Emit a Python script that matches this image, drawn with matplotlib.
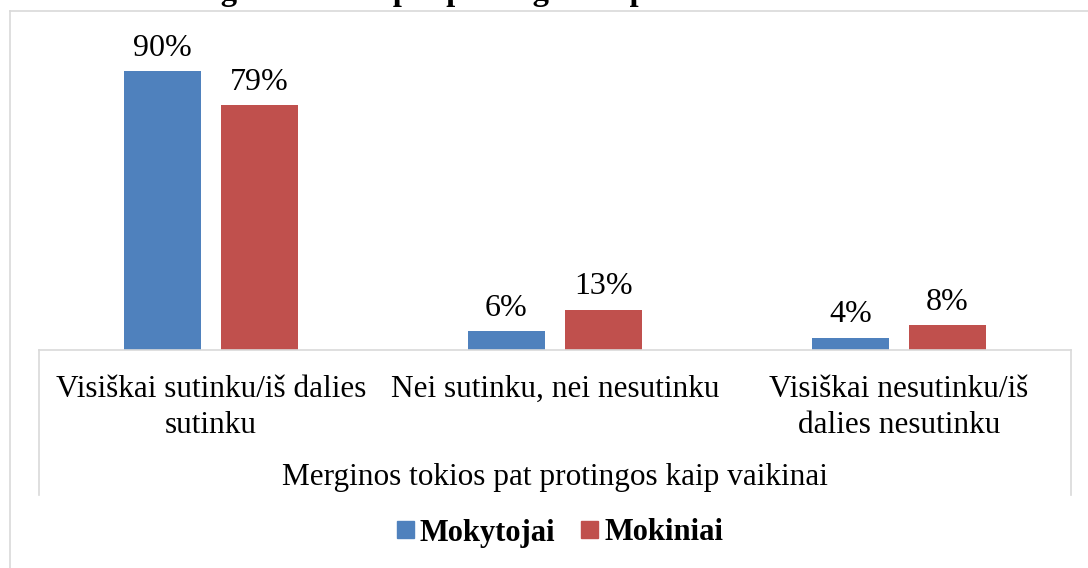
import matplotlib.pyplot as plt
from matplotlib.lines import Line2D
from matplotlib.patches import Patch
import numpy as np

plt.rcParams['font.family'] = ['Liberation Serif', 'DejaVu Serif']

CATEGORIES = ['Visiškai sutinku/iš dalies\nsutinku',
              'Nei sutinku, nei nesutinku',
              'Visiškai nesutinku/iš\ndalies nesutinku']
MOKYTOJAI = [0.90, 0.06, 0.04]
MOKINIAI = [0.79, 0.13, 0.08]
SERIES = ['Mokytojai', 'Mokiniai']
AXIS_TITLE = 'Merginos tokios pat protingos kaip vaikinai'
TITLE = 'Merginos tokios pat protingos kaip vaikinai'

BLUE = '#4F81BD'
RED = '#C0504D'
GRID = '#D9D9D9'

W, H = 1088, 568


def fx(px):
    return px / W


def fy(py):
    return 1 - py / H


def fig_line(fig, xs, ys):
    fig.add_artist(Line2D([fx(x) for x in xs], [fy(y) for y in ys],
                          transform=fig.transFigure, color=GRID, lw=1.2))


fig = plt.figure(figsize=(W / 100, H / 100), dpi=100)

# plot area: baseline at y=350 px, 100% at y=40 px
ax = fig.add_axes([fx(39), fy(350), fx(1071) - fx(39), fy(40) - fy(350)])

x = np.arange(len(CATEGORIES))
bw = 0.224
off = 0.141
ax.bar(x - off, MOKYTOJAI, bw, color=BLUE)
ax.bar(x + off, MOKINIAI, bw, color=RED)

for xs, vals in [(x - off, MOKYTOJAI), (x + off, MOKINIAI)]:
    for xi, v in zip(xs, vals):
        ax.annotate('%d%%' % round(v * 100), (xi, v), xytext=(0, 11),
                    textcoords='offset points', ha='center', va='baseline',
                    fontsize=23)

ax.set_xlim(-0.5, 2.5)
ax.set_ylim(0, 1)
ax.set_yticks([])
ax.set_xticks(x)
ax.set_xticklabels(CATEGORIES, fontsize=22.5, linespacing=1.3)
ax.tick_params(axis='x', length=0, pad=18)
for s in ['top', 'left', 'right']:
    ax.spines[s].set_visible(False)
ax.spines['bottom'].set_color(GRID)
ax.spines['bottom'].set_linewidth(1.2)
ax.patch.set_alpha(0)

# category axis box and outer chart border
fig_line(fig, [39, 39], [350, 495])
fig_line(fig, [1071, 1071], [350, 495])
fig_line(fig, [10, 10], [11, 568])
fig_line(fig, [10, 1088], [11, 11])

fig.text(fx(555), fy(478), AXIS_TITLE, ha='center', va='center', fontsize=22.5)

# chart title, mostly cut off at the top edge (as in the source image)
fig.text(fx(161), fy(0), TITLE, ha='left', va='baseline',
         fontsize=23.5, fontweight='bold')

handles = [Patch(color=BLUE), Patch(color=RED)]
fig.legend(handles, SERIES, loc='center', bbox_to_anchor=(fx(560), fy(533)),
           ncol=2, frameon=False, handlelength=0.55, handleheight=0.5,
           handletextpad=0.2, columnspacing=0.85, borderpad=0,
           prop={'size': 22, 'weight': 'bold'})

fig.savefig('out.png', dpi=100)
